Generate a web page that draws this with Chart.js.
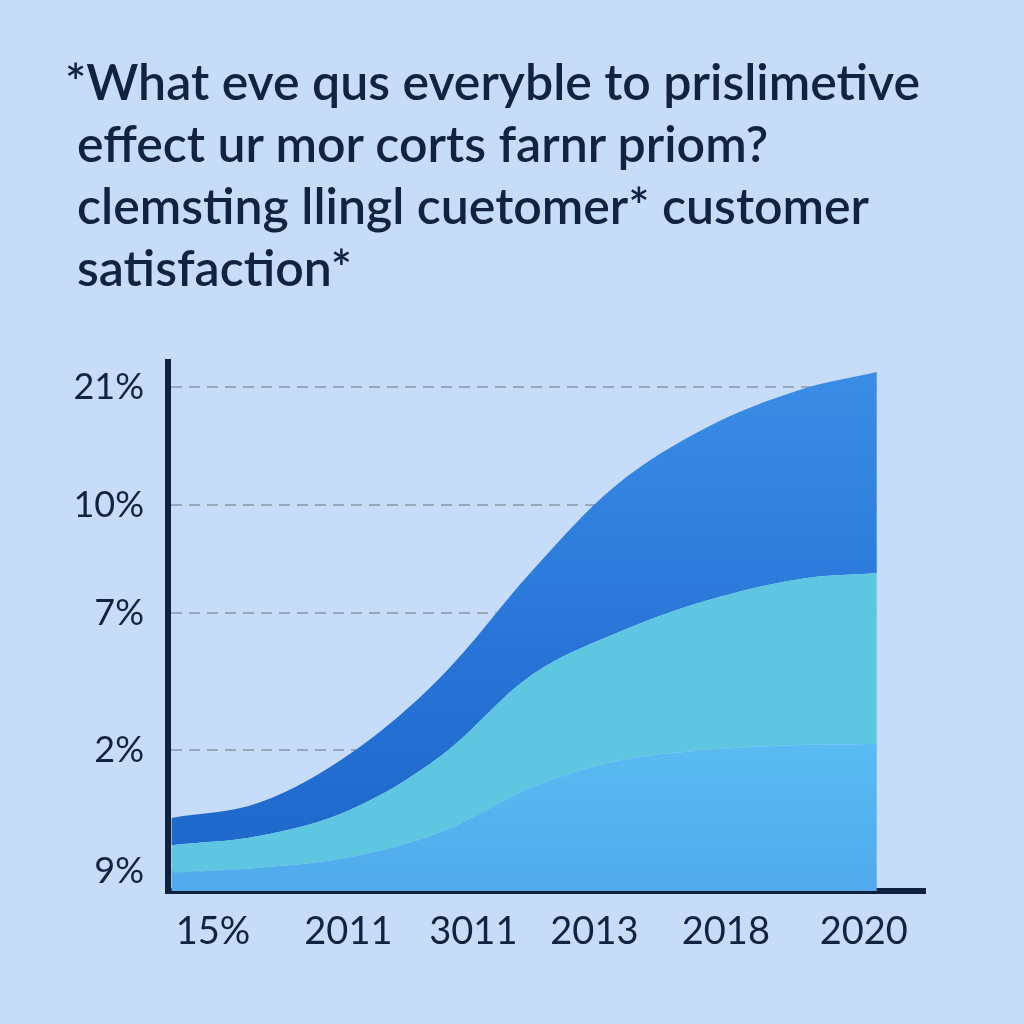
<!DOCTYPE html>
<html lang="en">
<head>
    <meta charset="UTF-8">
    <title>Customer satisfaction</title>
    <style>
        body {
            margin: 0;
            background-color: #c6dcf8;
        }
        .wrap {
            position: relative;
            width: 1024px;
            height: 1024px;
        }
        #title {
            position: absolute;
            left: 77px;
            top: 50px;
            width: 940px;
            font-family: Lato, 'Open Sans', sans-serif;
            font-size: 50px;
            font-weight: 600;
            line-height: 62px;
            color: #13233f;
            text-indent: -12px;
            white-space: nowrap;
        }
        canvas {
            position: absolute;
            left: 0;
            top: 0;
        }
    </style>
</head>
<body>
    <div class="wrap">
        <canvas id="chart" width="1024" height="1024"></canvas>
        <div id="title">*What eve qus everyble to prislimetive<br>effect ur mor corts farnr priom?<br>clemsting llingl cuetomer* customer<br>satisfaction*</div>
    </div>
    <script src="https://cdn.jsdelivr.net/npm/chart.js@4.4.0/dist/chart.umd.min.js"></script>
    <script>
        // axis labels (the y labels are not in order, kept as drawn)
        const xLabels = ['15%', '2011', '3011', '2013', '2018', '2020'];
        const xTickValues = [0, 1.04, 2.0, 2.93, 3.94, 5.0];
        const yTickLabels = ['21%', '10%', '7%', '2%', '9%'];
        const yTickValues = [100, 76.6, 55.2, 28.0, 3.8];

        // stacked areas, bottom to top
        const xPoints = [-0.32, 0.35, 1.05, 1.75, 2.45, 3.1, 3.8, 4.5, 5.1];
        const lightSeries = [3.6, 4.6, 6.7, 11.7, 20.6, 25.8, 28.0, 29.0, 29.2];
        const cyanSeries = [5.5, 6.3, 9.4, 15.1, 22.3, 25.4, 29.7, 32.9, 33.9];
        const darkSeries = [5.4, 6.6, 11.1, 15.7, 20.6, 29.4, 34.4, 37.5, 39.9];

        const bgColor = '#c6dcf8';
        const inkColor = '#13233f';
        const axisColor = '#10213d';

        function points(series) {
            return xPoints.map((x, i) => ({ x: x, y: series[i] }));
        }

        function darkFill(context) {
            const area = context.chart.chartArea;
            if (!area) return '#2f7fdc';
            const g = context.chart.ctx.createLinearGradient(0, area.top, 0, area.bottom);
            g.addColorStop(0, '#3b8ee6');
            g.addColorStop(0.6, '#2672d5');
            g.addColorStop(1, '#1d66c8');
            return g;
        }

        function lightFill(context) {
            const area = context.chart.chartArea;
            if (!area) return '#56b4ef';
            const g = context.chart.ctx.createLinearGradient(0, area.top + 350, 0, area.bottom);
            g.addColorStop(0, '#5cbff3');
            g.addColorStop(1, '#50aaec');
            return g;
        }

        // the dashed lines stop where the areas stop
        const trimGrid = {
            id: 'trimGrid',
            beforeDatasetsDraw(chart) {
                const area = chart.chartArea;
                const endX = chart.scales.x.getPixelForValue(xPoints[xPoints.length - 1]);
                const ctx = chart.ctx;
                ctx.save();
                ctx.fillStyle = bgColor;
                ctx.fillRect(endX, area.top, area.right - endX + 2, area.bottom - area.top - 3);
                ctx.restore();
            }
        };

        new Chart(document.getElementById('chart'), {
            type: 'line',
            data: {
                datasets: [
                    { label: 'light', data: points(lightSeries), backgroundColor: lightFill, fill: 'origin' },
                    { label: 'cyan', data: points(cyanSeries), backgroundColor: '#5ec6e1', fill: '-1' },
                    { label: 'dark', data: points(darkSeries), backgroundColor: darkFill, fill: '-1' }
                ]
            },
            options: {
                responsive: false,
                animation: false,
                layout: { padding: { left: 0, top: 362, right: 99, bottom: 0 } },
                elements: {
                    line: { tension: 0.35, borderWidth: 0 },
                    point: { radius: 0 }
                },
                plugins: {
                    legend: { display: false },
                    tooltip: { enabled: false }
                },
                scales: {
                    x: {
                        type: 'linear',
                        min: -0.346,
                        max: 5.47,
                        grid: { display: false, drawTicks: false },
                        border: { display: true, color: axisColor, width: 6 },
                        afterBuildTicks: s => { s.ticks = xTickValues.map(v => ({ value: v })); },
                        afterFit: s => { s.height = 133; },
                        ticks: {
                            autoSkip: false,
                            maxRotation: 0,
                            padding: 18,
                            color: inkColor,
                            font: { family: 'Lato', size: 38 },
                            callback: (v, i) => xLabels[i]
                        }
                    },
                    y: {
                        stacked: true,
                        min: 0,
                        max: 105,
                        grid: { drawTicks: false, color: '#9aa7b8', lineWidth: 2 },
                        border: { display: true, color: axisColor, width: 6, dash: [11, 7] },
                        afterBuildTicks: s => { s.ticks = yTickValues.map(v => ({ value: v })); },
                        afterFit: s => { s.width = 168; },
                        ticks: {
                            padding: 24,
                            color: inkColor,
                            font: { family: 'Lato', size: 36 },
                            callback: (v, i) => yTickLabels[i]
                        }
                    }
                }
            },
            plugins: [trimGrid]
        });
    </script>
</body>
</html>
